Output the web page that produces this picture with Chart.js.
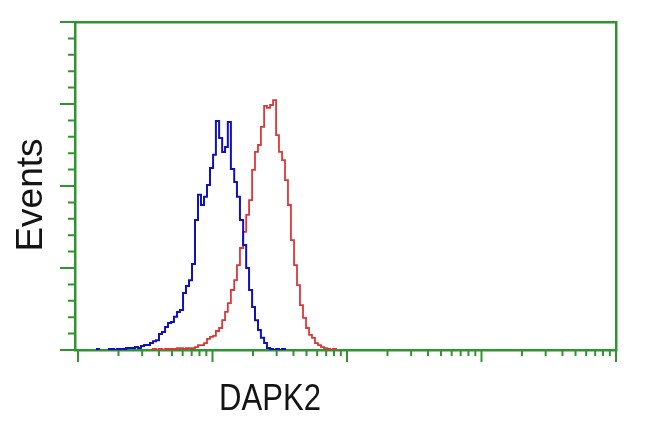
<!DOCTYPE html>
<html>
<head>
<meta charset="utf-8">
<script src="https://cdn.jsdelivr.net/npm/chart.js@4.4.1/dist/chart.umd.min.js"></script>
<style>
  html, body { margin: 0; padding: 0; background: #fff; }
</style>
</head>
<body>
<canvas id="flowChart" width="650" height="432"></canvas>
<script>
// fluorescence channel (log scale) for each histogram bin
const channels = [1.11,1.17,1.23,1.29,1.36,1.43,1.51,1.59,1.67,1.76,
  1.85,1.95,2.05,2.16,2.28,2.40,2.52,2.65,2.79,2.94,
  3.10,3.26,3.43,3.61,3.80,4.00,4.21,4.44,4.67,4.92,
  5.17,5.45,5.73,6.04,6.35,6.69,7.04,7.41,7.80,8.21,
  8.65,9.10,9.58,10.1,10.6,11.2,11.8,12.4,13.0,13.7,
  14.5,15.2,16.0,16.9,17.8,18.7,19.7,20.7,21.8,22.9,
  24.2,25.4,26.8,28.2,29.7,31.2,32.9,34.6,36.4,38.3,
  40.4,42.5,44.7,47.1,49.6,52.2,54.9,57.8,60.9,64.1,
  67.5,71.0,74.8,78.7,82.8,87.2,91.8];

// blue trace (control)
const controlEvents = [null,null,null,null,0.3,0,null,null,0.3,0.3,
  0,0.3,0.3,0.3,0.6,0.6,0.6,0.9,0.6,1.2,
  1.5,1.5,2.1,2.7,3.0,4.9,5.5,7.0,8.2,8.5,
  10.1,11.6,12.2,17.4,19.5,21.3,26.2,39.6,47.3,44.2,
  46.7,50.3,55.5,59.5,69.8,64.6,60.4,61.9,69.5,55.2,
  51.2,46.7,39.6,32.0,25.0,18.3,13.1,9.1,6.1,3.7,
  2.1,0.6,0.3,0,0.3,0,0.3,0,null,null,
  null,null,null,null,null,null,null,null,null,null,
  null,null,null,null,null,null,null];

// red trace (DAPK2)
const dapk2Events = [null,null,null,null,null,null,null,null,null,null,
  null,null,null,null,null,null,null,null,null,null,
  null,null,0,0.3,0,0.3,0,0.3,0.3,0.3,
  0.3,0.6,0.6,0.3,0.6,0.6,0.6,0.9,1.5,1.5,
  2.1,3.4,4.0,4.3,5.8,6.7,9.1,11.6,14.3,18.3,
  21.3,25.9,31.1,36.0,41.2,45.7,54.9,60.4,62.5,68.0,
  74.4,73.8,74.7,76.2,65.5,60.4,57.9,51.8,44.2,33.5,
  25.9,19.8,13.7,9.8,6.7,4.6,3.7,2.1,1.5,0.9,
  0.6,0.3,0,0.3,0,null,null];

const yMajorTicks = [0, 25, 50, 75, 100];
const yMinorTicks = [5,10,15,20,30,35,40,45,55,60,65,70,80,85,90,95];
const xMajorTicks = [1, 10, 100, 1000, 10000];
const xMinorTicks = [2,3,4,5,6,7,8,9,20,30,40,50,60,70,80,90,
  200,300,400,500,600,700,800,900,2000,3000,4000,5000,6000,7000,8000,9000];

const axisGreen = '#2f952f';

// tick marks and the two axis labels
const flowAxes = {
  id: 'flowAxes',
  afterDraw(chart) {
    const { ctx, chartArea: area } = chart;
    const x = chart.scales.x, y = chart.scales.y;
    ctx.save();
    ctx.strokeStyle = axisGreen;
    ctx.lineWidth = 2;
    ctx.beginPath();
    yMajorTicks.forEach(v => {
      const py = y.getPixelForValue(v);
      ctx.moveTo(area.left - 15, py); ctx.lineTo(area.left, py);
    });
    yMinorTicks.forEach(v => {
      const py = y.getPixelForValue(v);
      ctx.moveTo(area.left - 7, py); ctx.lineTo(area.left, py);
    });
    xMajorTicks.forEach(v => {
      const px = x.getPixelForValue(v);
      ctx.moveTo(px, area.bottom); ctx.lineTo(px, area.bottom + 12);
    });
    xMinorTicks.forEach(v => {
      const px = x.getPixelForValue(v);
      ctx.moveTo(px, area.bottom); ctx.lineTo(px, area.bottom + 6);
    });
    ctx.stroke();

    ctx.fillStyle = '#141414';
    ctx.font = '37px "Liberation Sans", Arial, sans-serif';
    ctx.textAlign = 'center';
    ctx.textBaseline = 'alphabetic';
    ctx.save();
    ctx.translate(270, 410);
    ctx.scale(0.84, 1);
    ctx.fillText('DAPK2', 0, 0);
    ctx.restore();
    ctx.save();
    ctx.translate(42, 195);
    ctx.rotate(-Math.PI / 2);
    ctx.fillText('Events', 0, 0);
    ctx.restore();
    ctx.restore();
  }
};

const hiddenAxis = (position, type) => ({
  type: type,
  position: position,
  display: true,
  grid: { display: false, drawTicks: false },
  ticks: { display: false },
  border: { display: true, color: axisGreen, width: 2.5 }
});

new Chart(document.getElementById('flowChart'), {
  type: 'line',
  data: {
    datasets: [
      {
        label: 'Control',
        data: channels.map((c, i) => ({ x: c, y: controlEvents[i] })),
        borderColor: '#1010bc',
        borderWidth: 2,
        stepped: true,
        pointRadius: 0,
        spanGaps: false
      },
      {
        label: 'DAPK2',
        data: channels.map((c, i) => ({ x: c, y: dapk2Events[i] })),
        borderColor: '#e03636',
        borderWidth: 1.8,
        stepped: true,
        pointRadius: 0,
        spanGaps: false
      }
    ]
  },
  options: {
    responsive: false,
    animation: false,
    layout: { padding: { left: 75, top: 22, right: 34, bottom: 82 } },
    plugins: { legend: { display: false }, tooltip: { enabled: false } },
    scales: {
      x: Object.assign(hiddenAxis('bottom', 'logarithmic'), { min: 0.95, max: 10000 }),
      y: Object.assign(hiddenAxis('left', 'linear'), { min: 0, max: 100 }),
      x2: hiddenAxis('top', 'linear'),
      y2: hiddenAxis('right', 'linear')
    }
  },
  plugins: [flowAxes]
});
</script>
</body>
</html>
